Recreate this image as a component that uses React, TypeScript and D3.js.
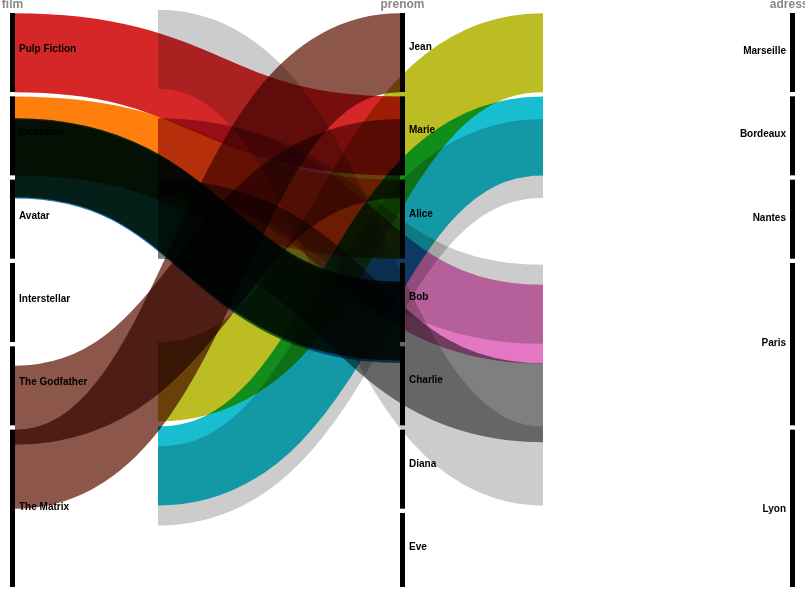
import React, { useEffect, useRef } from "react";
import * as d3 from "d3";

const dimensions = ["film", "prenom", "adresse"];

const filmNames = ["Pulp Fiction", "Inception", "Avatar", "Interstellar", "The Godfather", "The Matrix"];
const filmCounts = [1, 1, 1, 1, 1, 2];
const prenomNames = ["Jean", "Marie", "Alice", "Bob", "Charlie", "Diana", "Eve"];
const prenomCounts = [1, 1, 1, 1, 1, 1, 1];
const adresseNames = ["Marseille", "Bordeaux", "Nantes", "Paris", "Lyon"];
const adresseCounts = [1, 1, 1, 2, 2];

// ribbon ends, in record units along each axis (0..7)
const ribbonsA = [
  { color: "#d62728", from: 0.5, to: 1.5 },
  { color: "#ff7f0e", from: 1.5, to: 2.5 },
  { color: "#2ca02c", from: 1.76, to: 3.72 },
  { color: "#1f77b4", from: 1.775, to: 3.75 },
  { color: "#9467bd", from: 1.76, to: 3.72 },
  { color: "#8c564b", from: 4.73, to: 1.77 },
  { color: "#8c564b", from: 5.5, to: 0.5 },
];
const ribbonsB = [
  { color: "#bcbd22", from: 4.45, to: 0.5 },
  { color: "#17becf", from: 5.46, to: 1.5 },
  { color: "#cccccc", from: 5.7, to: 1.77 },
  { color: "#cccccc", from: 1.76, to: 3.52 },
  { color: "#cccccc", from: 0.46, to: 5.46 },
  { color: "#e377c2", from: 1.76, to: 3.76 },
  { color: "#7f7f7f", from: 2.5, to: 4.7 },
];

const width = 805;
const height = 587;
const barW = 5;
const shiftB = 143;
// vertical nudge of the category labels, per dimension
const labelNudge = [2, 0, 4];

const App: React.FC = () => {
  const svgRef = useRef<SVGSVGElement | null>(null);

  useEffect(() => {
    const svgEl = svgRef.current;
    if (!svgEl) return;
    const svg = d3.select(svgEl);
    svg.selectAll("*").remove();

    const x = d3.scalePoint<string>().domain(dimensions).range([12.5, 792.5]);
    const y = d3.scaleLinear().domain([0, 7]).range([11, 594.3]);
    const band = y(1) - y(0) - 4.3;

    const link = d3
      .linkHorizontal<{ source: [number, number]; target: [number, number] }, [number, number]>()
      .x((d) => d[0])
      .y((d) => d[1]);

    const links = svg.append("g");

    const drawSet = (data: typeof ribbonsA, x0: number, x1: number) => {
      links
        .selectAll(null)
        .data(data)
        .enter()
        .append("path")
        .attr("d", (d) =>
          link({ source: [x0, y(d.from)], target: [x1, y(d.to)] })
        )
        .attr("fill", "none")
        .attr("stroke", (d) => d.color)
        .attr("stroke-width", band)
        .style("mix-blend-mode", "multiply");
    };

    const xa0 = x("film")! + barW / 2;
    const xa1 = x("prenom")! - barW / 2;
    drawSet(ribbonsA, xa0, xa1);
    drawSet(ribbonsB, xa0 + shiftB, xa1 + shiftB);

    const axes: [string, string[], number[]][] = [
      ["film", filmNames, filmCounts],
      ["prenom", prenomNames, prenomCounts],
      ["adresse", adresseNames, adresseCounts],
    ];

    axes.forEach(([dim, names, counts], di) => {
      const g = svg.append("g");
      let start = 0;
      names.forEach((name, i) => {
        const end = start + counts[i];
        g.append("rect")
          .attr("x", x(dim)! - barW / 2)
          .attr("y", y(start) + 2)
          .attr("width", barW)
          .attr("height", y(end) - y(start) - 4.3)
          .attr("fill", "#000");
        const last = di === axes.length - 1;
        g.append("text")
          .attr("x", last ? x(dim)! - barW / 2 - 4 : x(dim)! + barW / 2 + 4)
          .attr("y", (y(start) + y(end)) / 2 - 2.5 + labelNudge[di])
          .attr("text-anchor", last ? "end" : "start")
          .attr("font-family", "Liberation Sans, Arial, sans-serif")
          .attr("font-size", 10)
          .attr("font-weight", "bold")
          .attr("fill", "#000")
          .text(name);
        start = end;
      });
      g.append("text")
        .attr("x", x(dim)!)
        .attr("y", 8)
        .attr("text-anchor", "middle")
        .attr("font-family", "Liberation Sans, Arial, sans-serif")
        .attr("font-size", 12)
        .attr("font-weight", "bold")
        .attr("fill", "#888")
        .text(dim);
    });
  }, []);

  return (
    <svg
      ref={svgRef}
      width={width}
      height={height}
      style={{ position: "absolute", left: 0, top: 0, background: "#fff" }}
    />
  );
};

export default App;
